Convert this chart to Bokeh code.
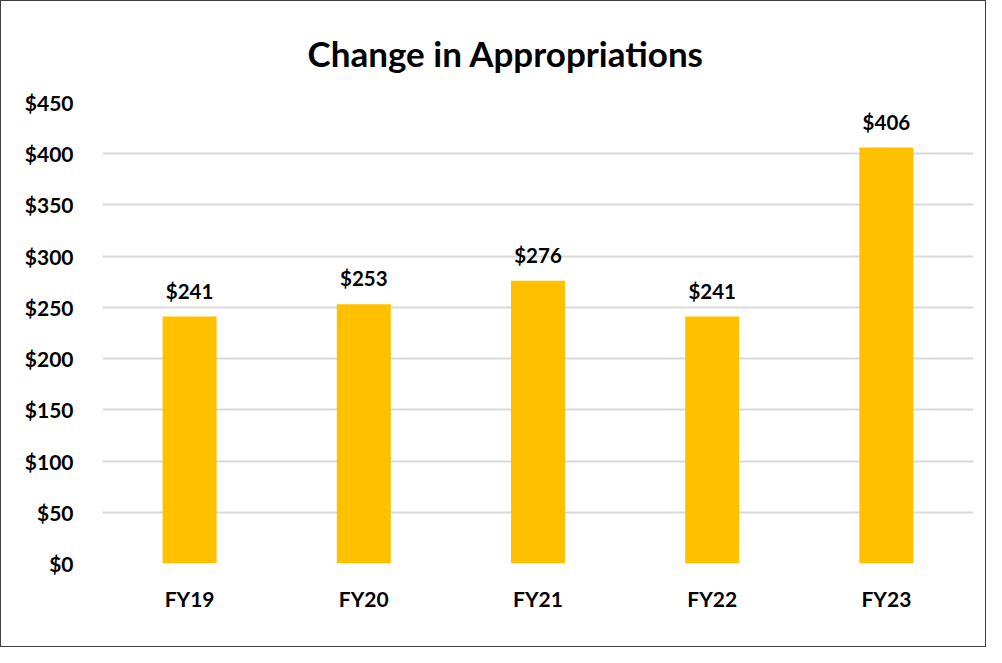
from bokeh.plotting import figure
from bokeh.models import ColumnDataSource, FixedTicker, Range1d
from bokeh.core.properties import value
from bokeh.embed import file_html
from bokeh.resources import INLINE

categories = ["FY19", "FY20", "FY21", "FY22", "FY23"]
values = [241, 253, 276, 241, 406]
labels = ["$241", "$253", "$276", "$241", "$406"]
y_ticks = [0, 50, 100, 150, 200, 250, 300, 350, 400, 450]

FONT = "Lato"

src = ColumnDataSource(dict(cat=categories, val=values, lab=labels))

p = figure(x_range=categories, y_range=Range1d(0, 450), width=986, height=647,
           output_backend="svg", toolbar_location=None,
           min_border_left=101, min_border_right=14, min_border_top=101, min_border_bottom=85)

p.title.text = "Change in Appropriations"
p.title.align = "left"
p.title.offset = 205
p.title.text_font = FONT
p.title.text_font_size = "35px"
p.title.text_font_style = "bold"
p.title.text_color = "black"
p.title.standoff = 57

p.vbar(x="cat", top="val", width=0.31, source=src, color="#FFC000", line_color=None)
p.text(x="cat", y="val", text="lab", source=src, text_align="center", text_baseline="bottom",
       y_offset=-14, text_font=value(FONT), text_font_style="bold", text_font_size="20.5px",
       text_color="black")

p.yaxis.ticker = FixedTicker(ticks=y_ticks)
p.yaxis.major_label_overrides = {t: f"${t}" for t in y_ticks}
for ax in (p.xaxis, p.yaxis):
    ax.axis_line_color = None
    ax.major_tick_line_color = None
    ax.minor_tick_line_color = None
    ax.major_label_text_font = FONT
    ax.major_label_text_font_style = "bold"
    ax.major_label_text_font_size = "21px"
    ax.major_label_text_color = "black"
p.yaxis.major_label_standoff = 23
p.xaxis.major_label_standoff = 16

p.xgrid.grid_line_color = None
p.ygrid.grid_line_color = "#D9D9D9"
p.ygrid.grid_line_width = 2
p.outline_line_color = None
p.x_range.range_padding = 0
p.styles = {"border": "1.5px solid #404040"}

open("out.html", "w").write(file_html(p, INLINE))
